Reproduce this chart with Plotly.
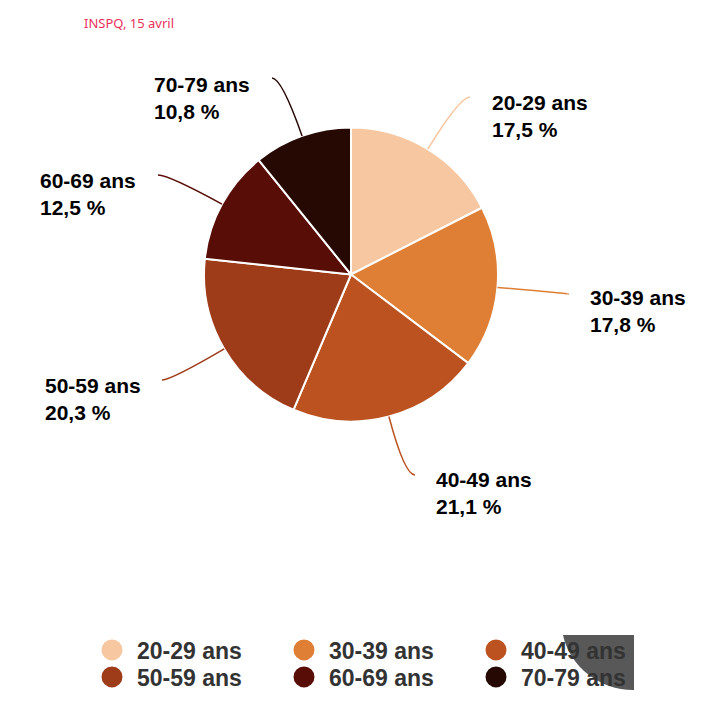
import math
import plotly.graph_objects as go

# data (INSPQ, 15 avril)
groupes = ["20-29 ans", "30-39 ans", "40-49 ans", "50-59 ans", "60-69 ans", "70-79 ans"]
pourcentages = [17.5, 17.8, 21.1, 20.3, 12.5, 10.8]
couleurs = ["#F6C7A0", "#DF7E35", "#BB521F", "#9E3B19", "#590D07", "#260902"]

W, H = 706, 702
cx, cy, r = 351, 274.5, 147  # pie centre and radius (px)

# label placement (px): left x of the text, centre y of the block, end of leader line
label_x = [490, 588, 434, 43, 38, 152]
label_y = [116, 311, 493, 399, 194, 98]
ligne_fin = [(470, 97), (568, 294), (415, 475), (162, 380), (158, 175), (272, 78)]


def px(x, y):
    return x / W, 1 - y / H


fig = go.Figure()

fig.add_trace(go.Pie(
    labels=groupes, values=pourcentages, sort=False, direction="clockwise",
    rotation=0, textinfo="none", showlegend=False,
    marker=dict(colors=couleurs, line=dict(color="white", width=2)),
    domain=dict(x=[(cx - r) / W, (cx + r) / W], y=[1 - (cy + r) / H, 1 - (cy - r) / H]),
))

# legend entries with round markers, two rows = two legends
for i, (g, c) in enumerate(zip(groupes, couleurs)):
    fig.add_trace(go.Scatter(x=[None], y=[None], mode="markers", name=g,
                             legend="legend" if i < 3 else "legend2",
                             marker=dict(symbol="circle", size=16, color=c,
                                         line=dict(color=c, width=5))))

# leader lines + labels, positioned from the slice mid-angles
total = sum(pourcentages)
cumul = 0
for i, v in enumerate(pourcentages):
    mid = (cumul + v / 2) / total * 2 * math.pi
    cumul += v
    dx, dy = math.sin(mid), -math.cos(mid)
    sx, sy = cx + r * dx, cy + r * dy
    ex, ey = ligne_fin[i]
    t = (ey - sy) / dy if abs(dy) > 1e-6 else 0
    qx, qy = sx + t * dx, ey
    p0, p1, p2 = px(sx, sy), px(qx, qy), px(ex, ey)
    fig.add_shape(type="path", xref="paper", yref="paper",
                  path=f"M {p0[0]} {p0[1]} Q {p1[0]} {p1[1]} {p2[0]} {p2[1]}",
                  line=dict(color=couleurs[i], width=1.5))
    ax, ay = px(label_x[i], label_y[i])
    texte = f"{groupes[i]}<br>{str(v).replace('.', ',')} %"
    fig.add_annotation(x=ax, y=ay, xref="paper", yref="paper", text=texte,
                       showarrow=False, xanchor="left", yanchor="middle", align="left",
                       font=dict(family="Liberation Sans, Arial", size=21, color="black",
                                 weight="bold"))

# grey overlay in the lower right corner of the picture
pts = [(634, 635), (634, 690), (633, 690)]
p = [px(*q) for q in pts]
c1, c2, e = px(600, 690), px(570, 667), px(563, 635)
fig.add_shape(type="path", xref="paper", yref="paper", layer="above",
              path=(f"M {p[0][0]} {p[0][1]} L {p[1][0]} {p[1][1]} L {p[2][0]} {p[2][1]} "
                    f"C {c1[0]} {c1[1]} {c2[0]} {c2[1]} {e[0]} {e[1]} Z"),
              fillcolor="rgba(30,30,30,0.74)", line=dict(width=0))

leg_font = dict(family="Liberation Sans, Arial", size=23, color="#333333", weight="bold")
leg = dict(orientation="h", xanchor="left", yanchor="middle", entrywidth=137,
           itemwidth=40, bgcolor="rgba(0,0,0,0)", font=leg_font)

fig.update_layout(
    width=W, height=H,
    margin=dict(l=0, r=0, t=0, b=0),
    paper_bgcolor="white", plot_bgcolor="rgba(0,0,0,0)",
    xaxis=dict(visible=False), yaxis=dict(visible=False),
    title=dict(text="INSPQ, 15 avril", x=84 / W, y=1 - 23 / H, xanchor="left",
               yanchor="middle", xref="paper", yref="container",
               font=dict(family="Noto Sans", size=13, color="#E8305A")),
    legend=dict(leg, x=87 / W, y=1 - 650 / H),
    legend2=dict(leg, x=87 / W, y=1 - 677 / H),
)

fig.write_html("out.html", config={"displayModeBar": False},
               post_script="document.body.style.margin='0';")
